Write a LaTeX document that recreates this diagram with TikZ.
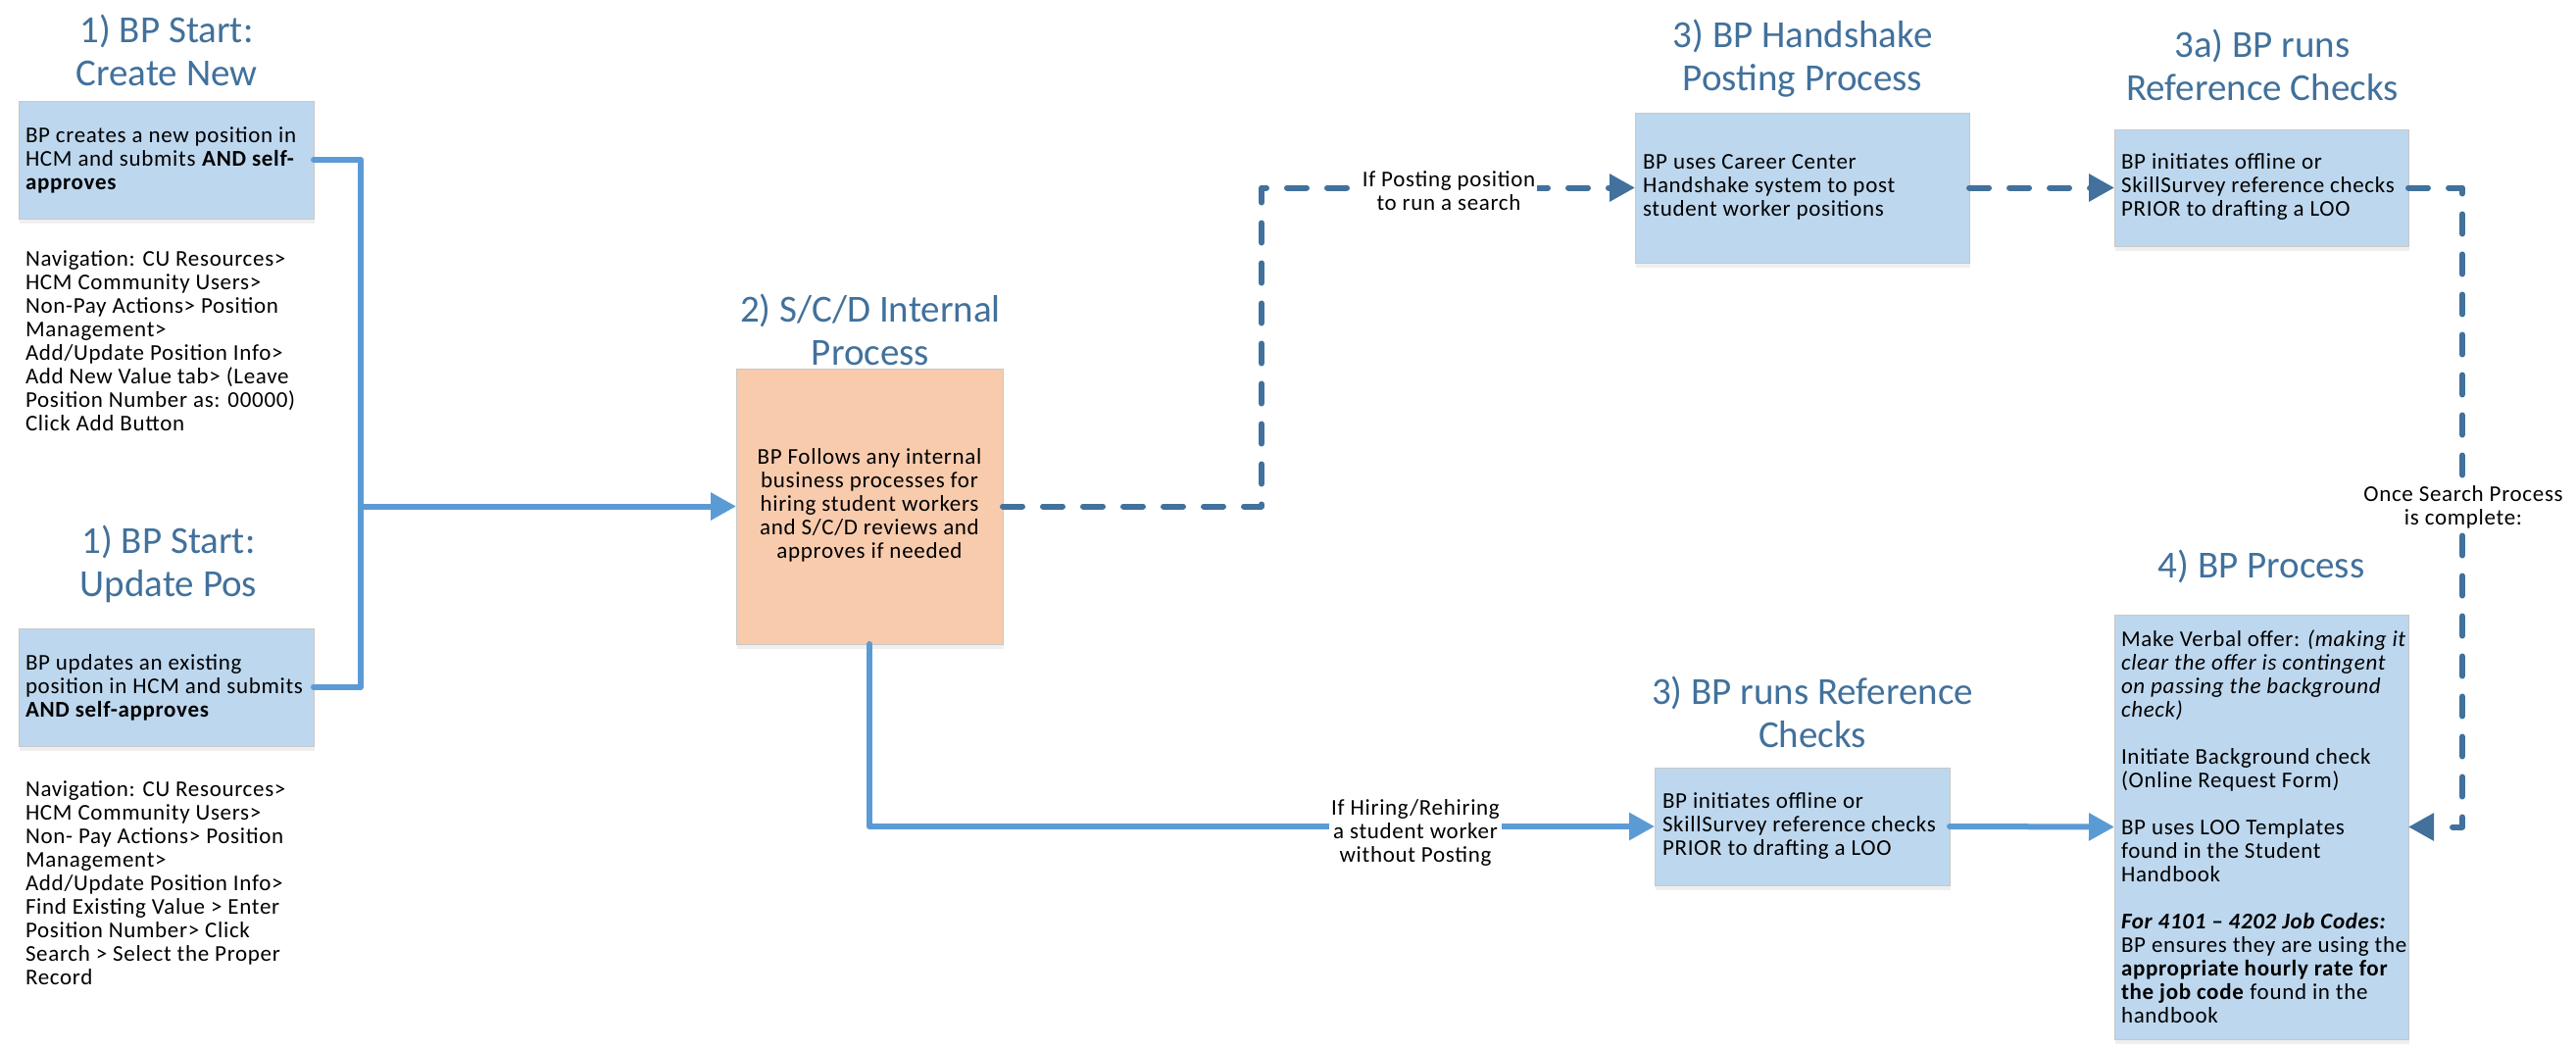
\documentclass[tikz,border=0pt]{standalone}
\usepackage{fontspec}
\setmainfont{Carlito}
\newfontfamily\bodyfont{Carlito}[LetterSpace=3]
\usetikzlibrary{arrows.meta,shadows}
\definecolor{ttlc}{HTML}{41719C}
\definecolor{boxblue}{HTML}{BDD7EE}
\definecolor{peach}{HTML}{F8CBAD}
\definecolor{solidc}{HTML}{5B9BD5}
\definecolor{dashc}{HTML}{41719C}
\definecolor{boxline}{HTML}{C8C8C8}
\begin{document}
\begin{tikzpicture}[x=1pt,y=-1pt,
  every node/.style={inner sep=0pt, outer sep=0pt},
  body/.style={font=\bodyfont\fontsize{23}{24}\selectfont, align=left, anchor=west},
  ttl/.style={font=\fontsize{39}{44}\selectfont, text=ttlc, align=center},
  pbox/.style={draw=boxline, line width=1pt, fill=boxblue, rectangle,
    drop shadow={shadow xshift=1pt, shadow yshift=-5pt, opacity=0.12}},
  solidline/.style={draw=solidc, line width=6pt, line cap=round, line join=round},
  dashline/.style={draw=dashc, line width=6pt, line cap=round, line join=round,
    dash pattern=on 20pt off 21pt},
  tip/.style={-{Triangle[length=26pt,width=27pt]}},
  lbl/.style={font=\bodyfont\fontsize{23}{24}\selectfont, align=center, fill=white, inner sep=2pt},
]
\useasboundingbox (0,0) rectangle (2628,1068);
\fill[white] (0,0) rectangle (2628,1068);

% titles
\node[ttl] (t1) at (170,51) {1) BP Start:\\Create New};
\node[ttl] (t2) at (172,575) {1) BP Start:\\Update Pos};
\node[ttl] (t3) at (888,336) {2) S/C/D Internal\\Process};
\node[ttl] (t4) at (1839,60) {3) BP Handshake\\Posting Process};
\node[ttl] (t5) at (2308,66) {3a) BP runs\\Reference Checks};
\node[ttl] (t6) at (1849,726) {3) BP runs Reference\\Checks};
\node[ttl] (t7) at (2307,578) {4) BP Process};

% boxes
\node[pbox, minimum width=301pt, minimum height=120pt] (b1) at (169.5,163) {};
\node[pbox, minimum width=301pt, minimum height=120pt] (b2) at (169.5,701) {};
\node[pbox, fill=peach, minimum width=272pt, minimum height=281pt] (scd) at (887,516.5) {};
\node[pbox, minimum width=341pt, minimum height=153pt] (hs) at (1838.5,191.5) {};
\node[pbox, minimum width=300pt, minimum height=119pt] (r3a) at (2307,191.5) {};
\node[pbox, minimum width=301pt, minimum height=120pt] (ref) at (1838.5,843) {};
\node[pbox, minimum width=300pt, minimum height=433pt] (b4) at (2307,843.5) {};

% box texts
\node[body] (b1t) at (26,163) {BP creates a new position in\\HCM and submits \textbf{AND self-}\\\textbf{approves}};
\node[body] (b2t) at (26,701) {BP updates an existing\\position in HCM and submits\\\textbf{AND self-approves}};
\node[body, align=center, anchor=center] (scdt) at (887,515) {BP Follows any internal\\business processes for\\hiring student workers\\and S/C/D reviews and\\approves if needed};
\node[body] (hst) at (1676,191) {BP uses Career Center\\Handshake system to post\\student worker positions};
\node[body] (r3at) at (2164,191) {BP initiates offline or\\SkillSurvey reference checks\\PRIOR to drafting a LOO};
\node[body] (reft) at (1696,843) {BP initiates offline or\\SkillSurvey reference checks\\PRIOR to drafting a LOO};
\node[body] (b4t) at (2164,843.5) {Make Verbal offer: \textit{(making it}\\\textit{clear the offer is contingent}\\\textit{on passing the background}\\\textit{check)}\\[24pt]Initiate Background check\\(Online Request Form)\\[24pt]BP uses LOO Templates\\found in the Student\\Handbook\\[24pt]\textbf{\textit{For 4101 – 4202 Job Codes:}}\\BP ensures they are using the\\\textbf{appropriate hourly rate for}\\\textbf{the job code} found in the\\handbook};

% navigation notes
\node[body] (n1) at (26,348) {Navigation: CU Resources>\\HCM Community Users>\\Non-Pay Actions> Position\\Management>\\Add/Update Position Info>\\Add New Value tab> (Leave\\Position Number as: 00000)\\Click Add Button};
\node[body] (n2) at (26,901) {Navigation: CU Resources>\\HCM Community Users>\\Non- Pay Actions> Position\\Management>\\Add/Update Position Info>\\Find Existing Value > Enter\\Position Number> Click\\Search > Select the Proper\\Record};

% connectors
\coordinate (j) at (368,516.5);
\coordinate (c1) at (1287,191.5);
\coordinate (c2) at (2512,191.5);
\draw[solidline] (b1.east) -| (j) |- (b2.east);
\draw[solidline, tip] (j) -- (scd.west);
\draw[solidline, tip] (scd.south) |- (ref.west);
\draw[solidline, tip] (ref.east) -- (b4.west);
\draw[dashline, tip] (scd.east) -| (c1) -- (hs.west);
\draw[dashline, tip] (hs.east) -- (r3a.west);
\draw[dashline, tip] (r3a.east) -- (c2) |- (b4.east);

% connector labels
\node[lbl] (lp) at (1478,195) {If Posting position\\to run a search};
\node[lbl] (lh) at (1444,849) {If Hiring/Rehiring\\a student worker\\without Posting};
\node[lbl] (ls) at (2513,517) {Once Search Process\\is complete:};
\end{tikzpicture}
\end{document}
